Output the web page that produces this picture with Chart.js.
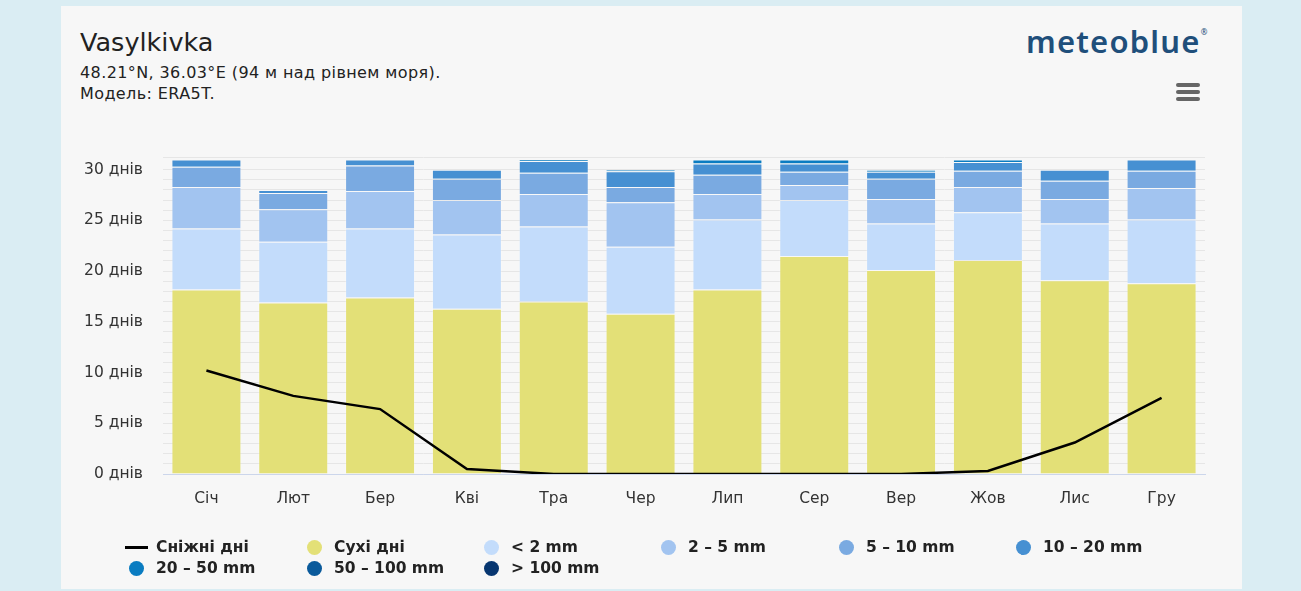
<!DOCTYPE html>
<html>
<head>
<meta charset="utf-8">
<script src="https://cdn.jsdelivr.net/npm/chart.js@4.4.1/dist/chart.umd.min.js"></script>
<style>
html, body { margin: 0; padding: 0; width: 1301px; height: 591px; overflow: hidden; background: #daedf3; font-family: "DejaVu Sans", sans-serif; color: #222; }
#panel { position: absolute; left: 61px; top: 6px; width: 1181px; height: 583px; background: #f7f7f7; }
#title { position: absolute; left: 80px; top: 27px; font-size: 25.5px; color: #222; white-space: nowrap; }
#sub { position: absolute; left: 80px; top: 62px; font-size: 16px; letter-spacing: 0.4px; line-height: 21px; color: #222; white-space: nowrap; }
#logo { position: absolute; left: 1026px; top: 20px; font-family: "Noto Sans", sans-serif; font-size: 31px; font-weight: 600; color: #1f4f7b; letter-spacing: 1.2px; white-space: nowrap; }
#logo sup { font-size: 8px; font-weight: normal; vertical-align: 18px; margin-left: 0; }
#menu { position: absolute; left: 1176px; top: 83px; width: 24px; }
#menu div { height: 4px; border-radius: 2px; background: #666; margin-bottom: 3px; }
#wrap { position: absolute; left: 0; top: 0; width: 1301px; height: 591px; }
#legend { position: absolute; left: 0; top: 537px; width: 1301px; }
.row { position: relative; height: 21px; }
.item { position: absolute; top: 0; font-size: 15.5px; font-weight: bold; color: #222; white-space: nowrap; line-height: 21px; }
.dot { position: absolute; top: 3px; width: 15px; height: 15px; border-radius: 50%; }
.dash { position: absolute; top: 9px; width: 23px; height: 3px; background: #000; }
</style>
</head>
<body>
<div id="panel"></div>
<div id="title">Vasylkivka</div>
<div id="sub">48.21°N, 36.03°E (94 м над рівнем моря).<br>Модель: ERA5T.</div>
<div id="logo">meteoblue<sup>®</sup></div>
<div id="menu"><div></div><div></div><div></div></div>
<div id="wrap"><canvas id="chart" width="1301" height="591"></canvas></div>
<div id="legend"></div>

<script>
// months and day counts per precipitation class
const months = ['Січ', 'Лют', 'Бер', 'Кві', 'Тра', 'Чер', 'Лип', 'Сер', 'Вер', 'Жов', 'Лис', 'Гру'];

const dryDays   = [18.2, 16.9, 17.4, 16.3, 17.0, 15.8, 18.2, 21.5, 20.1, 21.1, 19.1, 18.8];
const under2    = [6.0, 6.0, 6.8, 7.3, 7.4, 6.6, 6.9, 5.5, 4.6, 4.7, 5.6, 6.3];
const from2to5  = [4.1, 3.2, 3.7, 3.4, 3.2, 4.4, 2.5, 1.5, 2.4, 2.5, 2.4, 3.1];
const from5to10 = [2.0, 1.6, 2.5, 2.1, 2.1, 1.5, 1.9, 1.3, 2.0, 1.6, 1.8, 1.7];
const from10to20 = [0.7, 0.3, 0.6, 0.9, 1.15, 1.55, 1.1, 0.8, 0.7, 0.85, 1.1, 1.1];
const from20to50 = [0, 0, 0, 0, 0.15, 0.15, 0.4, 0.4, 0.2, 0.25, 0, 0];
const from50to100 = [0, 0, 0, 0, 0, 0, 0, 0, 0, 0, 0, 0];
const over100   = [0, 0, 0, 0, 0, 0, 0, 0, 0, 0, 0, 0];
const snowDays  = [10.2, 7.7, 6.4, 0.5, 0, 0, 0, 0, 0, 0.3, 3.1, 7.5];

const yTicks = [0, 5, 10, 15, 20, 25, 30];
const unit = 'днів';

const barSeries = [
  { label: 'Сухі дні',    data: dryDays,     color: '#e3e077' },
  { label: '< 2 mm',      data: under2,      color: '#c3dcfb' },
  { label: '2 – 5 mm',    data: from2to5,    color: '#a2c4f0' },
  { label: '5 – 10 mm',   data: from5to10,   color: '#7aaae1' },
  { label: '10 – 20 mm',  data: from10to20,  color: '#4690d2' },
  { label: '20 – 50 mm',  data: from20to50,  color: '#0a7cc1' },
  { label: '50 – 100 mm', data: from50to100, color: '#0a5a9b' },
  { label: '> 100 mm',    data: over100,     color: '#073670' }
];

Chart.defaults.font.family = '"DejaVu Sans", sans-serif';
Chart.defaults.color = '#333';

const datasets = [{
  type: 'line',
  label: 'Сніжні дні',
  data: snowDays,
  borderColor: '#000',
  borderWidth: 2.5,
  pointRadius: 0,
  tension: 0,
  stack: 'snow',
  order: 0
}];
barSeries.forEach(s => {
  datasets.push({
    type: 'bar',
    label: s.label,
    data: s.data,
    backgroundColor: s.color,
    borderColor: 'rgba(255,255,255,0.22)',
    borderWidth: 1,
    stack: 'days',
    order: 1,
    categoryPercentage: 0.806,
    barPercentage: 1
  });
});

const chart = new Chart(document.getElementById('chart').getContext('2d'), {
  data: { labels: months, datasets: datasets },
  options: {
    responsive: false,
    animation: false,
    layout: { padding: { left: 70, right: 96, top: 157, bottom: 77 } },
    plugins: { legend: { display: false }, tooltip: { enabled: false } },
    scales: {
      x: {
        stacked: true,
        grid: { display: false },
        border: { color: '#ccd6eb', width: 1 },
        ticks: { font: { size: 15.5 }, padding: 8, color: '#333' },
        afterFit: s => { s.height = 40; }
      },
      y: {
        stacked: true,
        min: 0,
        max: 31.25,
        grid: { color: '#e6e6e6', drawTicks: false },
        border: { display: false },
        ticks: {
          stepSize: 1,
          autoSkip: false,
          padding: 20,
          font: { size: 15.5 },
          color: '#333',
          callback: v => yTicks.includes(v) ? v + ' ' + unit : ''
        },
        afterFit: s => { s.width = 93; }
      }
    }
  }
});

// legend laid out in fixed columns
const legendRows = [
  [datasets[0], datasets[1], datasets[2], datasets[3], datasets[4], datasets[5]],
  [datasets[6], datasets[7], datasets[8]]
];
const colX = [156, 334, 511, 688, 866, 1043];
const legend = document.getElementById('legend');
legendRows.forEach(row => {
  const r = document.createElement('div');
  r.className = 'row';
  row.forEach((ds, i) => {
    const it = document.createElement('div');
    it.className = 'item';
    it.style.left = colX[i] + 'px';
    const mark = document.createElement('div');
    if (ds.type === 'line') {
      mark.className = 'dash';
      mark.style.left = '-31px';
    } else {
      mark.className = 'dot';
      mark.style.left = '-27px';
      mark.style.background = ds.backgroundColor;
    }
    it.appendChild(mark);
    it.appendChild(document.createTextNode(ds.label));
    r.appendChild(it);
  });
  legend.appendChild(r);
});
</script>
</body>
</html>
